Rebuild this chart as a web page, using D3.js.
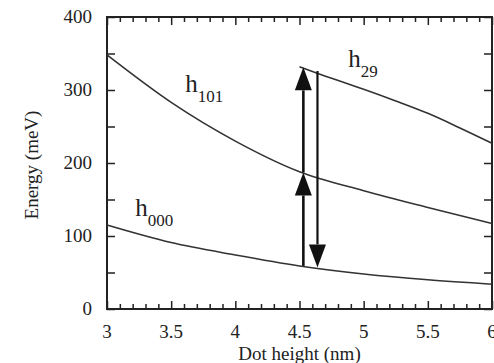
<!DOCTYPE html>
<html>
<head>
<meta charset="utf-8">
<script src="https://cdn.jsdelivr.net/npm/d3@7"></script>
<style>
  body { margin: 0; background: #fff; }
</style>
</head>
<body>
<script>
// ==== data ====
var heights = [3, 3.5, 4, 4.5, 5, 5.5, 6];
var h000 = [115, 91, 74, 59, 48, 40, 34];
var h101 = [348, 283, 230, 188, 162, 139, 117];

var heights29 = [4.5, 4.75, 5, 5.25, 5.5, 5.75, 6];
var h29 = [332, 316, 301, 285, 268, 248, 227];

// transitions: x, from, to
var arrowX = [4.53, 4.53, 4.64];
var arrowFrom = [59, 187, 326];
var arrowTo = [187, 331, 57];

var xTicks = [3, 3.5, 4, 4.5, 5, 5.5, 6];
var yTicks = [0, 100, 200, 300, 400];

var serif = '"Liberation Serif", "Times New Roman", "DejaVu Serif", serif';

var margin = {top: 17, right: 2, bottom: 54, left: 107},
    W = 494, H = 363,
    width = W - margin.left - margin.right,
    height = H - margin.top - margin.bottom;

var svg = d3.select("body").append("svg")
    .attr("width", W)
    .attr("height", H);

var g = svg.append("g")
    .attr("transform", "translate(" + margin.left + "," + margin.top + ")");

var x = d3.scaleLinear().domain([3, 6]).range([0, width]);
var y = d3.scaleLinear().domain([0, 400]).range([height, 0]);

var ink = "#222";

// ==== ticks (all inward) ====
var minorX = d3.range(30, 61).map(function(d) { return d / 10; });
var minorY = d3.range(0, 401, 50);

function isMajorX(d) { return Math.abs(d * 2 - Math.round(d * 2)) < 1e-6; }

g.append("g").call(d3.axisBottom(x).tickValues(minorX).tickSize(-1).tickFormat(""))
    .attr("transform", "translate(0," + height + ")")
    .call(function(a) {
        a.select(".domain").remove();
        a.selectAll(".tick line")
            .attr("y2", function(d) { return isMajorX(d) ? -8 : -5; })
            .attr("stroke", ink).attr("stroke-width", 1.5);
    });

g.append("g").call(d3.axisTop(x).tickValues(minorX).tickSize(-1).tickFormat(""))
    .call(function(a) {
        a.select(".domain").remove();
        a.selectAll(".tick line")
            .attr("y2", function(d) { return isMajorX(d) ? 8 : 5; })
            .attr("stroke", ink).attr("stroke-width", 1.5);
    });

g.append("g").call(d3.axisLeft(y).tickValues(minorY).tickSize(-8).tickFormat(""))
    .call(function(a) {
        a.select(".domain").remove();
        a.selectAll(".tick line").attr("stroke", ink).attr("stroke-width", 1.5);
    });

g.append("g").call(d3.axisRight(y).tickValues(minorY).tickSize(-8).tickFormat(""))
    .attr("transform", "translate(" + width + ",0)")
    .call(function(a) {
        a.select(".domain").remove();
        a.selectAll(".tick line").attr("stroke", ink).attr("stroke-width", 1.5);
    });

// tick labels
g.append("g").selectAll("text").data(xTicks).enter().append("text")
    .attr("x", function(d) { return x(d); })
    .attr("y", height + 29)
    .attr("text-anchor", "middle")
    .attr("font-family", serif)
    .attr("font-size", "19px")
    .attr("fill", ink)
    .text(function(d) { return d; });

g.append("g").selectAll("text").data(yTicks).enter().append("text")
    .attr("x", -15)
    .attr("y", function(d) { return y(d) + 6; })
    .attr("text-anchor", "end")
    .attr("font-family", serif)
    .attr("font-size", "19px")
    .attr("fill", ink)
    .text(function(d) { return d; });

// frame
g.append("rect")
    .attr("width", width).attr("height", height)
    .attr("fill", "none").attr("stroke", ink).attr("stroke-width", 2);

// axis titles
svg.append("text")
    .attr("x", margin.left + x(4.5))
    .attr("y", 360)
    .attr("text-anchor", "middle")
    .attr("font-family", serif)
    .attr("font-size", "19px")
    .attr("fill", ink)
    .text("Dot height (nm)");

svg.append("text")
    .attr("transform", "translate(38,165) rotate(-90)")
    .attr("text-anchor", "middle")
    .attr("font-family", serif)
    .attr("font-size", "19px")
    .attr("fill", ink)
    .text("Energy (meV)");

// ==== curves ====
var line = d3.line()
    .x(function(d) { return x(d[0]); })
    .y(function(d) { return y(d[1]); })
    .curve(d3.curveMonotoneX);

[[heights, h000], [heights, h101], [heights29, h29]].forEach(function(s) {
    g.append("path")
        .datum(d3.zip(s[0], s[1]))
        .attr("d", line)
        .attr("fill", "none")
        .attr("stroke", "#333")
        .attr("stroke-width", 1.6);
});

// ==== arrows ====
var headLen = 23, headHalf = 8.5;
arrowX.forEach(function(ax, i) {
    var px = x(ax),
        y0 = y(arrowFrom[i]),
        y1 = y(arrowTo[i]),
        dir = y1 < y0 ? 1 : -1;  // 1 = pointing up
    var base = y1 + dir * headLen;
    g.append("line")
        .attr("x1", px).attr("x2", px)
        .attr("y1", y0).attr("y2", base)
        .attr("stroke", "#111")
        .attr("stroke-width", dir === 1 ? 2.6 : 2.2);
    g.append("path")
        .attr("d", "M" + px + "," + y1 + "L" + (px - headHalf) + "," + base + "L" + (px + headHalf) + "," + base + "Z")
        .attr("fill", "#111");
});

// ==== state labels ====
function label(xv, yv, main, sub) {
    var t = g.append("text")
        .attr("x", x(xv))
        .attr("y", y(yv))
        .attr("font-family", serif)
        .attr("fill", ink)
        .attr("font-size", "25px");
    t.append("tspan").text(main);
    t.append("tspan").attr("dy", 10).attr("font-size", "17px").text(sub);
}
label(3.61, 297, "h", "101");
label(3.22, 128, "h", "000");
label(4.88, 332, "h", "29");
</script>
</body>
</html>
